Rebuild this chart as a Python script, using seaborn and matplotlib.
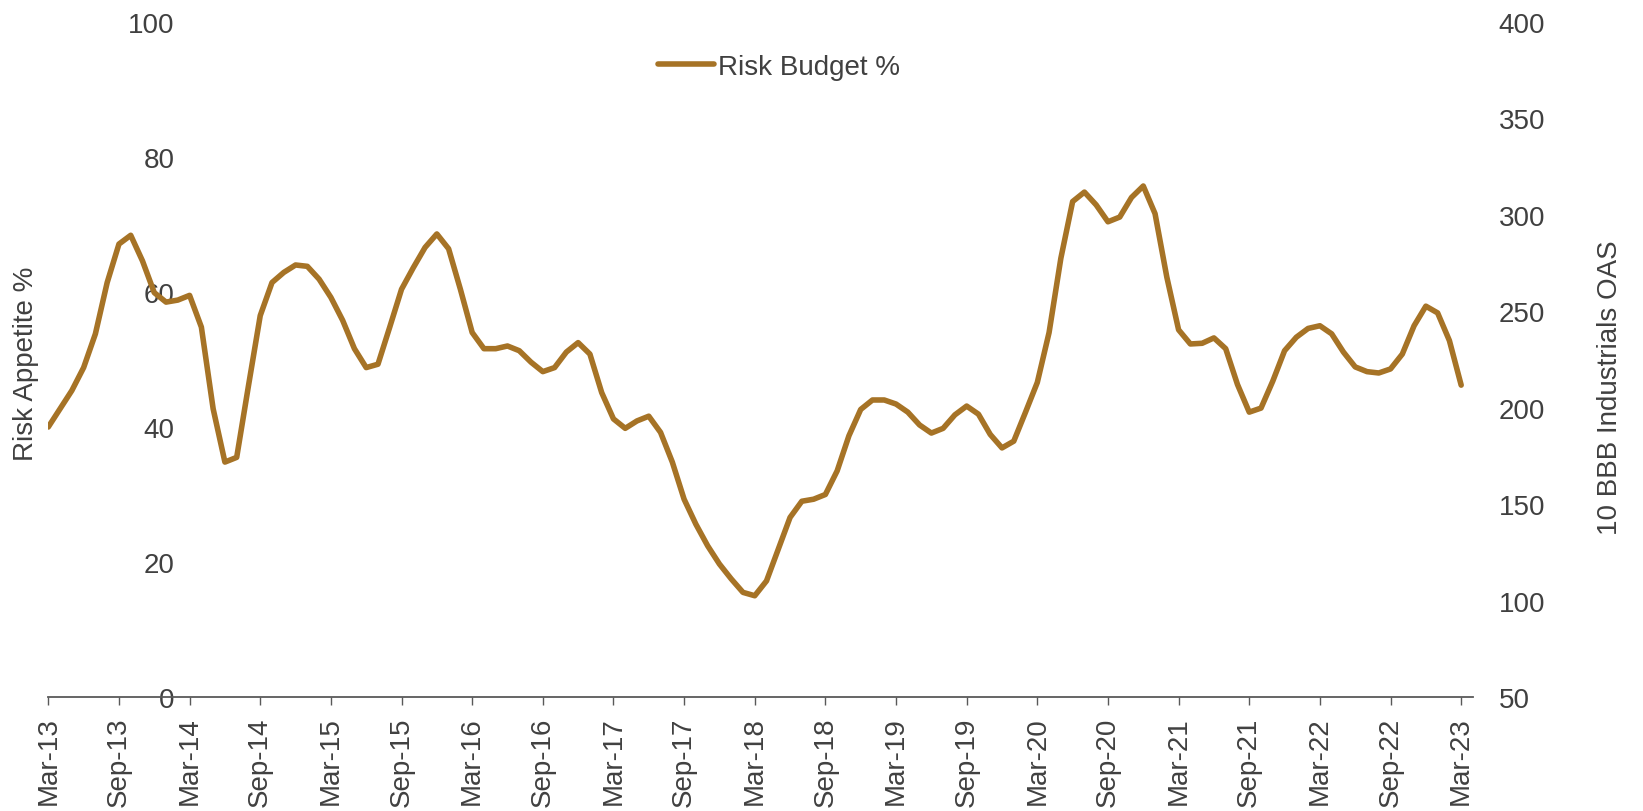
import numpy as np
import pandas as pd
import seaborn as sns
import matplotlib.pyplot as plt

# monthly Risk Budget %, Mar-13 .. Mar-23
risk_budget = [40.0, 42.7, 45.4, 48.8, 53.8, 61.4, 67.1, 68.4, 64.6, 59.9,
               58.5, 58.8, 59.5, 54.8, 42.7, 34.8, 35.5, 46.1, 56.5, 61.4,
               62.9, 64.0, 63.8, 61.9, 59.2, 55.8, 51.6, 48.8, 49.3, 54.8,
               60.4, 63.6, 66.6, 68.6, 66.4, 60.4, 54.0, 51.6, 51.6, 52.0,
               51.3, 49.6, 48.2, 48.8, 51.1, 52.5, 50.8, 45.1, 41.2, 39.8,
               40.9, 41.6, 39.2, 34.8, 29.3, 25.6, 22.4, 19.7, 17.5, 15.5,
               15.0, 17.2, 21.9, 26.6, 29.0, 29.3, 30.0, 33.5, 38.7, 42.6,
               44.0, 44.0, 43.4, 42.2, 40.3, 39.1, 39.8, 41.8, 43.1, 41.9,
               38.9, 36.9, 37.9, 42.2, 46.6, 54.0, 65.0, 73.4, 74.8, 72.9,
               70.4, 71.1, 74.0, 75.7, 71.6, 62.2, 54.4, 52.3, 52.4, 53.2,
               51.6, 46.3, 42.2, 42.8, 46.8, 51.3, 53.3, 54.6, 55.0, 53.8,
               51.1, 48.9, 48.2, 48.0, 48.6, 50.8, 55.0, 57.9, 56.9, 52.8,
               46.2]
dates = pd.date_range("2013-03-01", periods=len(risk_budget), freq="MS")

left_ticks = [0, 20, 40, 60, 80, 100]
right_ticks = [50, 100, 150, 200, 250, 300, 350, 400]

df = pd.DataFrame({"month": np.arange(len(risk_budget)),
                   "Risk Budget %": risk_budget})

sns.set_theme(style="white")
plt.rcParams["font.family"] = ["Liberation Sans", "DejaVu Sans"]

txt = "#404040"
axc = "#595959"
brown = "#A67326"

fig = plt.figure(figsize=(16.43, 8.12), dpi=100)
ax = fig.add_axes([0.0294, 0.1404, 0.8671, 0.8313])

sns.lineplot(data=df, x="month", y="Risk Budget %", ax=ax, color=brown,
             linewidth=4.0, label="Risk Budget %", legend=False,
             solid_joinstyle="round", solid_capstyle="round")

ax.set_xlim(0, 121)
ax.set_ylim(0, 100)
ax.set_yticks(left_ticks)
ax.set_xticks(df["month"][::6])
ax.set_xticklabels(dates[::6].strftime("%b-%y"), rotation=90)
ax.set_xlabel("")
ax.set_ylabel("Risk Appetite %", fontsize=20, color=txt)
ax.yaxis.set_label_coords(-0.0065, 0.495)

ax.tick_params(axis="x", bottom=True, length=6, width=1, color=axc,
               labelsize=20, labelcolor=txt, pad=8)
ax.tick_params(axis="y", left=False, length=0, labelsize=20,
               labelcolor=txt, pad=-91)

sns.despine(ax=ax, left=True, right=True, top=True)
ax.spines["bottom"].set_color(axc)
ax.spines["bottom"].set_linewidth(1.3)

ax2 = ax.twinx()
ax2.set_ylim(50, 400)
ax2.set_yticks(right_ticks)
ax2.tick_params(axis="y", right=False, length=0, labelsize=20,
                labelcolor=txt, pad=18.5)
ax2.set_ylabel("10 BBB Industrials OAS", fontsize=20, color=txt)
ax2.yaxis.set_label_coords(1.0868, 0.459)
for s in ax2.spines.values():
    s.set_visible(False)
ax2.grid(False)
ax.grid(False)

h, l = ax.get_legend_handles_labels()
fig.legend(h, l, loc="center left", bbox_to_anchor=(658 / 1643, 1 - 68 / 812),
           frameon=False, fontsize=20, labelcolor=txt, borderpad=0,
           borderaxespad=0, handlelength=2.0, handletextpad=0.15)

fig.savefig("out.png", dpi=100)
